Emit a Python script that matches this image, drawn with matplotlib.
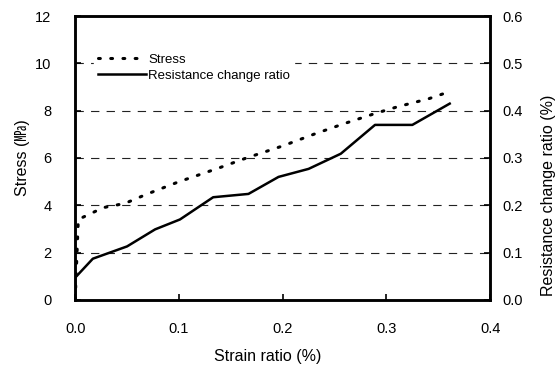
import matplotlib
matplotlib.use("Agg")
import matplotlib.pyplot as plt

plt.rcParams['font.family'] = ['Liberation Sans', 'Noto Sans CJK KR', 'DejaVu Sans']

# strain ratio (%) vs stress (MPa)
strain_stress = [0.0, 0.003, 0.027, 0.048, 0.069, 0.099, 0.138, 0.165, 0.200,
                 0.231, 0.259, 0.291, 0.311, 0.341, 0.361]
stress = [0.0, 3.4, 3.9, 4.08, 4.47, 4.98, 5.57, 6.0, 6.51,
          7.02, 7.45, 7.91, 8.17, 8.51, 8.81]

# strain ratio (%) vs resistance change ratio (%)
strain_res = [0.0, 0.0, 0.017, 0.050, 0.077, 0.101, 0.133, 0.167, 0.196,
              0.225, 0.256, 0.289, 0.325, 0.361]
res_ratio = [0.0, 0.047, 0.087, 0.113, 0.149, 0.170, 0.217, 0.224, 0.260,
             0.277, 0.309, 0.370, 0.370, 0.415]

xticks = [0.0, 0.1, 0.2, 0.3, 0.4]
yticks_left = [0, 2, 4, 6, 8, 10, 12]
yticks_right = [0.0, 0.1, 0.2, 0.3, 0.4, 0.5, 0.6]

fig = plt.figure(figsize=(5.57, 3.67), dpi=100)
ax = fig.add_axes([0.135, 0.183, 0.745, 0.773])
ax2 = ax.twinx()

# dashed horizontal grid
for v in yticks_left[1:-1]:
    ax.axhline(v, color='#222222', lw=0.8, ls=(0, (7.5, 6.5)), zorder=1)

l1, = ax.plot(strain_stress, stress, color='black', lw=2.2, ls=(0, (0.6, 3.4)),
              dash_capstyle='round', label='Stress', zorder=3)
l2, = ax2.plot(strain_res, res_ratio, color='black', lw=1.8,
               label='Resistance change ratio', zorder=3)

ax.set_xlim(0, 0.4)
ax.set_ylim(0, 12)
ax2.set_ylim(0, 0.6)
ax.set_xticks(xticks)
ax.set_xticklabels(['%.1f' % t for t in xticks])
ax.set_yticks(yticks_left)
ax2.set_yticks(yticks_right)
ax2.set_yticklabels(['%.1f' % t for t in yticks_right])

ax.tick_params(axis='x', direction='in', length=4, width=1.2, pad=16, labelsize=10.5)
ax.tick_params(axis='y', direction='in', length=4, width=1.2, pad=17, labelsize=10.5)
ax2.tick_params(axis='y', direction='in', length=4, width=1.2, pad=9, labelsize=10.5)

for a in (ax, ax2):
    for s in a.spines.values():
        s.set_linewidth(1.8)

ax.set_xlabel('Strain ratio (%)', fontsize=11.5)
ax.xaxis.set_label_coords(0.463, -0.175)
ax.set_ylabel('Stress (\u33ab)', fontsize=11.5, labelpad=4)
ax2.set_ylabel('Resistance change ratio (%)', fontsize=11.5)
ax2.yaxis.set_label_coords(1.122, 0.37)

leg = ax2.legend(handles=[l1, l2], loc='upper left', bbox_to_anchor=(0.03, 0.905),
                 frameon=True, fontsize=9.5, handlelength=3.6, handletextpad=0.2,
                 borderpad=0.3, labelspacing=0.3, fancybox=False)
leg.get_frame().set_edgecolor('white')
leg.get_frame().set_facecolor('white')
leg.get_frame().set_alpha(1)

fig.savefig('out.png', dpi=100)
